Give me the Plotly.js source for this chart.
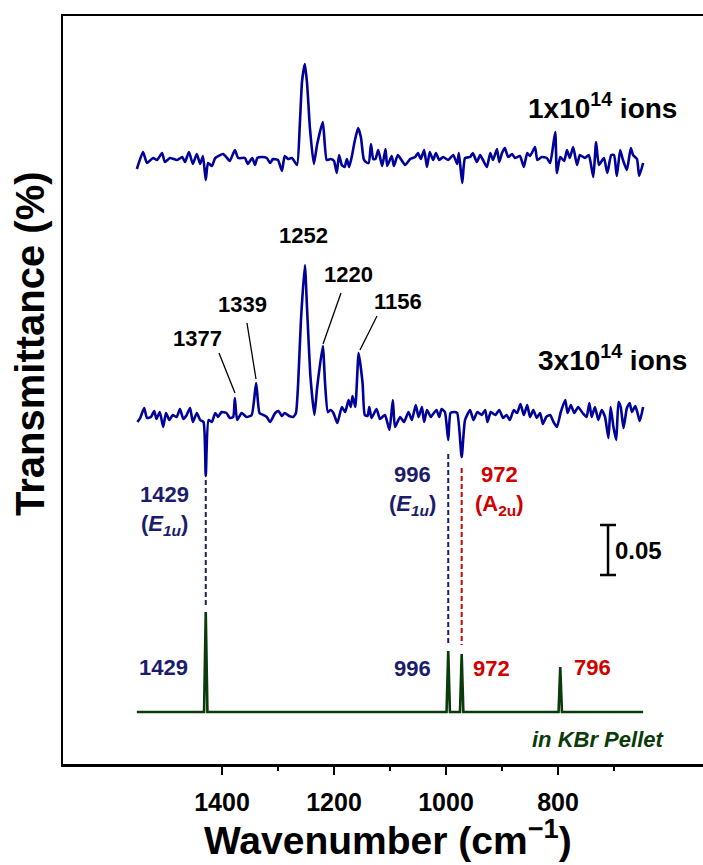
<!DOCTYPE html>
<html>
<head>
<meta charset="utf-8">
<script src="https://cdn.plot.ly/plotly-3.0.1.min.js"></script>
<style>html,body{margin:0;padding:0;overflow:hidden;background:#fff;}#chart{width:703px;height:865px;}</style>
</head>
<body>
<div id="chart"></div>
<script>
// ---- data (wavenumber in cm-1, transmittance change relative to each trace baseline) ----
const wnTop = [1552,1541,1534,1523,1516,1507,1502,1493,1480,1471,1466,1459,1452,1445,1439,1434,1429,1425,1418,1412,1398,1391,1386,1377,1371,1359,1354,1346,1341,1337,1329,1320,1314,1309,1300,1293,1288,1282,1275,1266,1261,1257,1252,1248,1243,1236,1230,1220,1213,1206,1200,1195,1191,1186,1181,1177,1173,1168,1163,1157,1152,1147,1143,1138,1134,1130,1126,1121,1114,1108,1105,1097,1093,1086,1073,1064,1055,1050,1045,1039,1034,1029,1023,1018,1012,1005,996,987,980,977,971,966,957,952,945,939,934,927,921,916,909,905,900,895,889,882,877,868,861,855,850,841,837,829,820,814,805,802,796,789,784,779,773,766,761,752,745,737,732,727,718,712,705,700,695,689,684,677,670,666,659,655,648];
const valTop = [-0.010,0.007,-0.004,0.001,-0.001,0.006,-0.003,0.001,-0.001,0.002,-0.003,0.007,-0.005,0.005,-0.005,0.003,-0.021,-0.004,-0.007,0.001,0.005,0.001,-0.002,0.009,0.001,0.001,-0.005,0.001,-0.006,0.001,0.002,0.001,-0.004,0.000,-0.001,-0.012,0.003,0.000,0.001,-0.006,0.035,0.078,0.095,0.075,0.031,-0.005,0.015,0.037,-0.001,0.000,-0.002,-0.014,0.004,-0.006,-0.008,0.000,-0.008,0.003,0.018,0.031,0.022,0.000,-0.003,-0.004,0.015,0.000,0.000,0.009,-0.007,0.010,-0.007,0.003,-0.007,0.004,-0.006,0.000,0.002,0.006,0.000,0.009,-0.008,0.007,-0.001,0.006,-0.001,0.002,-0.001,0.004,-0.005,0.006,-0.024,0.001,0.002,0.006,-0.003,0.004,-0.001,-0.008,0.006,-0.001,0.010,-0.003,0.006,0.011,0.002,0.005,0.001,0.003,-0.008,0.006,0.003,0.012,-0.001,0.002,0.001,-0.004,0.027,-0.014,0.002,-0.002,0.009,0.001,0.012,-0.006,0.004,0.001,0.004,-0.018,0.017,-0.006,0.001,-0.014,0.004,0.004,-0.017,0.009,-0.001,-0.011,0.011,0.004,0.000,-0.017,-0.004];

const wnMid = [1551,1546,1539,1534,1527,1521,1517,1511,1505,1500,1494,1488,1481,1475,1469,1463,1457,1452,1445,1439,1433,1429,1424,1418,1412,1407,1401,1392,1386,1380,1377,1373,1365,1356,1347,1339,1333,1326,1320,1314,1305,1299,1293,1288,1280,1273,1268,1264,1259,1252,1248,1242,1235,1230,1220,1216,1211,1206,1201,1194,1186,1180,1174,1170,1167,1162,1156,1149,1145,1140,1137,1133,1124,1118,1109,1101,1095,1091,1082,1075,1067,1061,1054,1049,1043,1039,1034,1027,1023,1017,1012,1008,1002,996,992,986,980,972,966,957,951,944,936,930,926,920,912,905,898,892,886,879,873,867,861,855,850,844,838,832,827,821,814,808,802,795,787,783,777,771,764,756,749,744,740,734,728,722,716,710,706,701,696,692,688,683,677,672,668,662,658,654,648];
const valMid = [-0.007,-0.003,0.007,-0.003,-0.002,0.004,-0.004,0.003,-0.012,0.002,-0.005,0.000,-0.002,0.006,-0.004,0.000,0.007,-0.007,0.002,-0.005,-0.007,-0.061,-0.005,-0.007,0.002,-0.002,0.003,0.002,-0.003,-0.002,0.017,-0.005,0.002,-0.002,0.000,0.032,0.002,0.000,-0.002,-0.007,0.002,0.004,-0.001,0.002,-0.001,-0.002,0.002,0.032,0.095,0.150,0.105,0.038,0.000,0.028,0.069,0.032,0.003,0.005,0.002,-0.008,0.008,0.003,0.015,0.008,0.019,0.008,0.062,0.032,0.000,-0.001,0.008,-0.003,0.006,-0.004,0.000,-0.015,0.015,-0.012,-0.002,-0.007,0.003,-0.005,0.010,-0.002,0.008,-0.007,0.005,-0.002,0.001,0.005,-0.002,0.006,0.003,-0.025,0.002,0.003,0.002,-0.042,-0.005,0.005,-0.005,0.003,0.000,0.005,-0.007,0.003,0.000,0.005,-0.003,0.000,-0.005,0.005,0.002,0.011,0.000,0.010,-0.002,0.005,-0.003,0.002,-0.009,-0.002,0.000,-0.007,-0.012,0.003,0.015,0.002,0.010,0.002,0.008,0.002,-0.002,0.012,-0.002,0.008,-0.005,0.005,-0.002,-0.023,0.008,-0.012,-0.025,0.013,0.008,-0.013,0.007,0.012,0.003,0.009,0.002,-0.006,0.008];

const wnKBr  = [1552,1432,1429,1426,999,996,993,975,972,969,799,796,793,648];
const valKBr = [0,0,0.100,0,0,0.061,0,0,0.058,0,0,0.045,0,0];

const offsetTop = 0.606, offsetMid = 0.350, offsetKBr = 0.053;

// correlation (dashed) lines: wavenumber, start, end
const corrWn    = [1429, 996, 972];
const corrStart = [0.285, 0.311, 0.297];
const corrEnd   = [0.158, 0.120, 0.120];

const peakLabels = ['1377','1339','1252','1220','1156'];
const xTicks = [1400,1200,1000,800];
const xMinorTicks = [1300,1100,900,700];

// ---- styling ----
const BLUE='#00009a', NAVY='#1c1c6c', RED='#d00000', GREEN='#0b3a0b';
const FONT='Liberation Sans, Arial, Helvetica, sans-serif';

const traces = [];
traces.push({x:wnTop, y:valTop.map(v=>v+offsetTop), mode:'lines', line:{color:BLUE,width:2.6,shape:'spline',smoothing:0.5}, hoverinfo:'skip'});
traces.push({x:wnMid, y:valMid.map(v=>v+offsetMid), mode:'lines', line:{color:BLUE,width:2.6,shape:'spline',smoothing:0.5}, hoverinfo:'skip'});
traces.push({x:wnKBr, y:valKBr.map(v=>v+offsetKBr), mode:'lines', line:{color:GREEN,width:2.6}, hoverinfo:'skip'});
const corrColors=[NAVY,NAVY,RED];
corrWn.forEach((w,i)=>{
  traces.push({x:[w,w], y:[corrStart[i],corrEnd[i]], mode:'lines', line:{color:corrColors[i],width:2,dash:'5px,3px'}, hoverinfo:'skip'});
});

function ann(text,x,y,size,color,extra){
  return Object.assign({text:text,x:x,y:y,xref:'x',yref:'y',showarrow:false,xanchor:'center',yanchor:'middle',
    font:{family:FONT,size:size,color:color,weight:'bold'}},extra||{});
}
const peakPos = [[1444.6,0.427],[1362.5,0.461],[1255,0.530],[1175,0.491],[1086,0.464]];
const annotations = [];
peakLabels.forEach((t,i)=>annotations.push(ann(t,peakPos[i][0],peakPos[i][1],22,'black')));
annotations.push(ann('1x10<sup>14</sup> ions',721,0.659,28,'black'));
annotations.push(ann('3x10<sup>14</sup> ions',702.7,0.407,28,'black'));
annotations.push(ann('1429',1502,0.271,22,NAVY));
annotations.push(ann('(<i>E</i><sub><i>1u</i></sub>)',1502,0.240,22,NAVY));
annotations.push(ann('996',1059,0.291,22,NAVY));
annotations.push(ann('(<i>E</i><sub><i>1u</i></sub>)',1059,0.260,22,NAVY));
annotations.push(ann('972',903.6,0.291,22,RED));
annotations.push(ann('(A<sub>2u</sub>)',903.6,0.260,22,RED));
annotations.push(ann('1429',1505,0.098,22,NAVY));
annotations.push(ann('996',1059,0.097,22,NAVY));
annotations.push(ann('972',918,0.097,22,RED));
annotations.push(ann('796',739,0.098,22,RED));
annotations.push(ann('<i>in KBr Pellet</i>',728.6,0.026,22,GREEN));
annotations.push(ann('0.05',657,0.215,24,'black'));
annotations.push(ann('Wavenumber (cm<sup>\u22121</sup>)',0.508,-0.098,39,'black',{xref:'paper',yref:'paper'}));
annotations.push(ann('Transmittance (%)',-0.0516,0.5628,40,'black',{xref:'paper',yref:'paper',textangle:-90}));

const shapes = [];
function seg(x0,y0,x1,y1,w,c){shapes.push({type:'line',xref:'x',yref:'y',x0:x0,y0:y0,x1:x1,y1:y1,line:{color:c||'black',width:w}});}
// leader lines
seg(1405.4,0.412,1376.8,0.372,1.3);
seg(1355.4,0.442,1339.3,0.386,1.3);
seg(1187.5,0.472,1219.6,0.421,1.3);
seg(1123.2,0.449,1153.6,0.415,1.3);
// scale bar 0.05
seg(710.7,0.240,710.7,0.190,2.5);
seg(725,0.240,696.4,0.240,2.5);
seg(725,0.190,696.4,0.190,2.5);

const layout = {
  width:703, height:865,
  margin:{l:63,r:0,t:16,b:101,pad:0},
  paper_bgcolor:'white', plot_bgcolor:'white', showlegend:false,
  font:{family:FONT,color:'black'},
  xaxis:{range:[1683.9,541.1], showline:true, linewidth:2.5, linecolor:'black', mirror:true,
    ticks:'outside', ticklen:8, tickwidth:2, tickcolor:'black', tickmode:'array', tickvals:xTicks,
    ticklabelstandoff:6,
    tickfont:{family:FONT,size:25,color:'black',weight:'bold'}, showgrid:false, zeroline:false,
    minor:{tickmode:'array', tickvals:xMinorTicks, ticks:'outside', ticklen:4, tickwidth:2, tickcolor:'black', showgrid:false}},
  yaxis:{range:[0.001,0.749], showline:true, linewidth:2.5, linecolor:'black', mirror:false,
    showticklabels:false, ticks:'', showgrid:false, zeroline:false},
  annotations:annotations, shapes:shapes
};
Plotly.newPlot('chart', traces, layout, {staticPlot:true, displayModeBar:false});
</script>
</body>
</html>
